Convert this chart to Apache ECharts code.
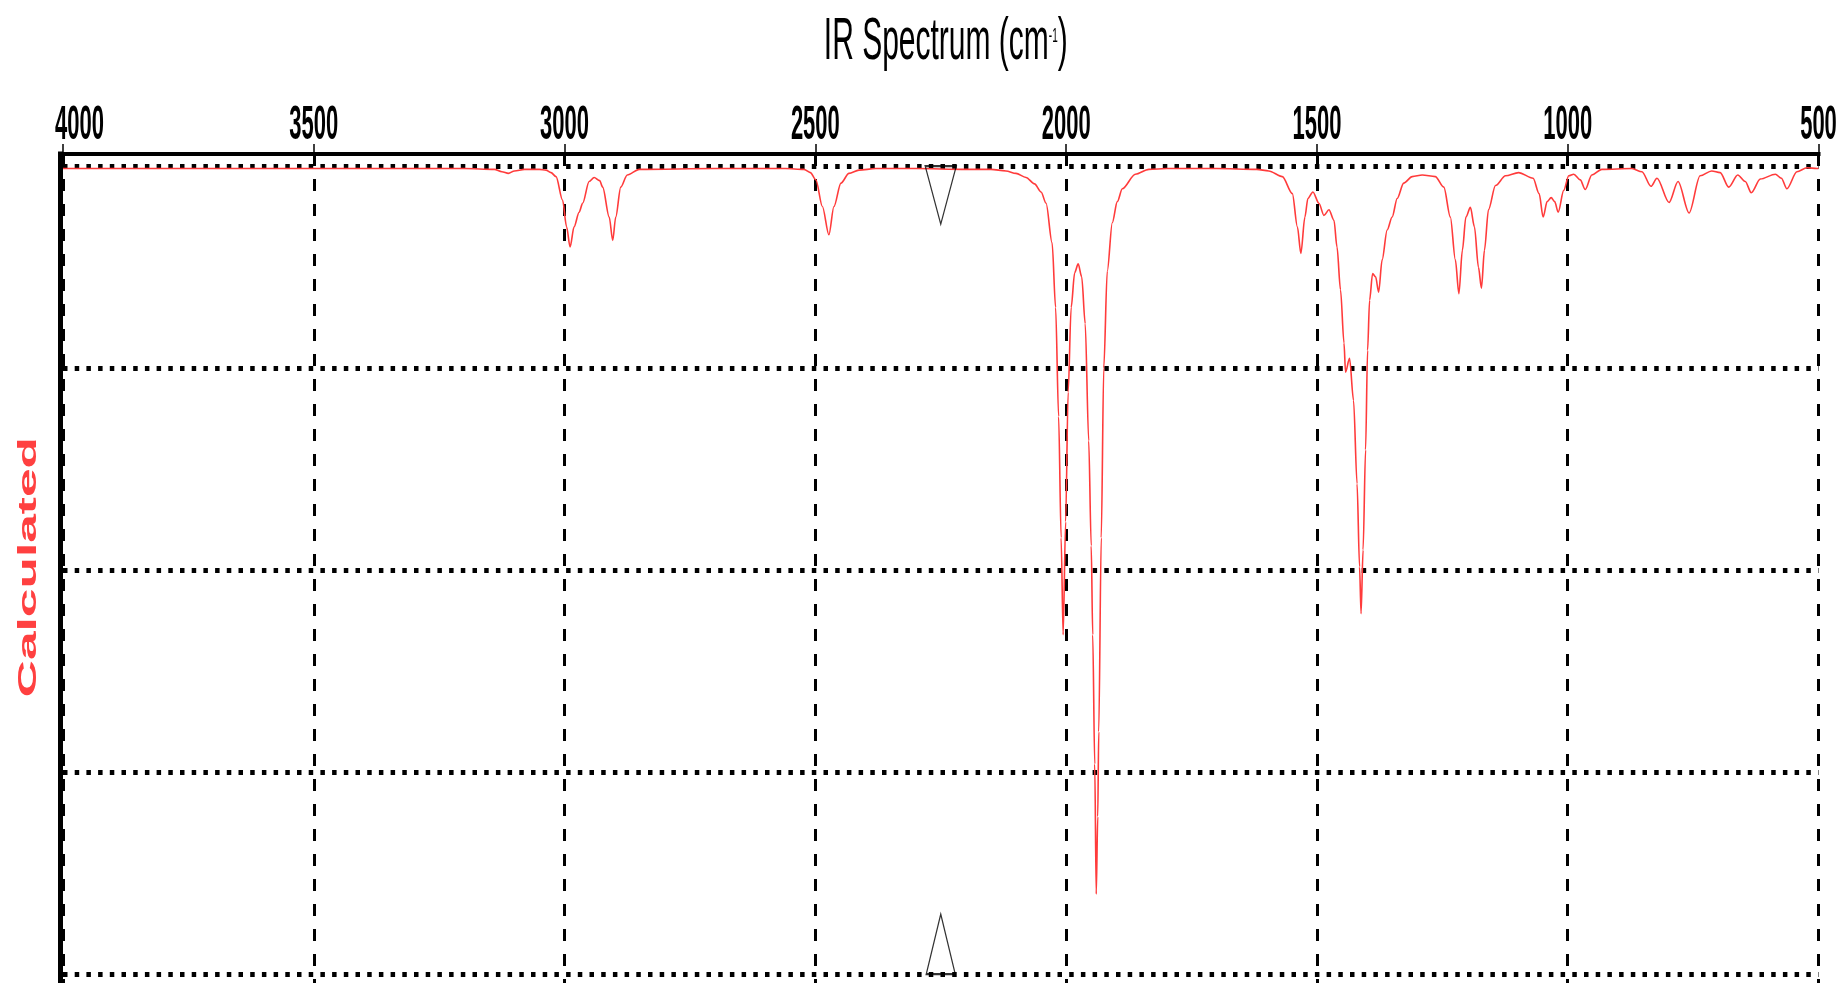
<!DOCTYPE html>
<html>
<head>
<meta charset="utf-8">
<title>IR Spectrum</title>
<script src="https://cdn.jsdelivr.net/npm/echarts@6/dist/echarts.min.js"></script>
<style>
  html, body { margin: 0; padding: 0; background: #ffffff; }
  #chart { width: 1847px; height: 983px; }
</style>
</head>
<body>
<div id="chart"></div>
<script>
// Calculated IR spectrum: wavenumber (cm-1) and transmittance (%)
const wavenumbers = [
  4000, 3800, 3600, 3400, 3200, 3140, 3125, 3112, 3100, 3080, 3050, 3037, 3027, 3017,
  3004, 2996, 2989, 2981, 2971, 2964, 2951, 2941, 2930, 2924, 2911, 2904, 2898, 2888,
  2875, 2851, 2700, 2560, 2523, 2510, 2499, 2486, 2473, 2463, 2449, 2433, 2413, 2380,
  2300, 2200, 2150, 2120, 2100, 2080, 2063, 2050, 2040, 2028, 2021, 2015, 2010, 2006,
  2001, 1996, 1990, 1983, 1976, 1969, 1962, 1955, 1950, 1947, 1943, 1940, 1937, 1935,
  1930, 1925, 1918, 1908, 1898, 1888, 1862, 1835, 1800, 1700, 1620, 1596, 1569, 1549,
  1539, 1532, 1524, 1518, 1508, 1496, 1486, 1476, 1466, 1460, 1453, 1446, 1443, 1435,
  1427, 1420, 1415, 1412, 1408, 1403, 1399, 1395, 1389, 1383, 1377, 1370, 1360, 1350,
  1340, 1327, 1310, 1290, 1264, 1247, 1234, 1224, 1217, 1210, 1203, 1194, 1186, 1178,
  1172, 1166, 1158, 1144, 1124, 1098, 1069, 1057, 1049, 1041, 1033, 1026, 1019, 1008,
  998, 988, 975, 965, 952, 932, 872, 852, 834, 822, 798, 780, 758, 736,
  713, 696, 679, 661, 646, 634, 616, 586, 574, 563, 543, 523, 503, 500
];
const transmittance = [
  99.7, 99.7, 99.7, 99.7, 99.7, 99.6, 99.3, 99.1, 99.4, 99.6, 99.6, 99.5, 99.2, 98.7,
  95.8, 92.5, 90.0, 92.5, 94.3, 95.4, 98.1, 98.6, 98.2, 97.4, 93.7, 90.8, 93.7, 97.4,
  98.9, 99.6, 99.7, 99.7, 99.6, 99.2, 98.3, 95.0, 91.5, 95.0, 97.9, 99.1, 99.5, 99.7,
  99.7, 99.6, 99.6, 99.4, 99.1, 98.6, 97.8, 96.8, 95.4, 90.5, 82.5, 69.0, 54.0, 42.0,
  56.0, 72.0, 82.5, 86.8, 87.9, 86.3, 80.5, 66.0, 53.0, 42.0, 26.0, 9.9, 19.5, 30.0,
  54.0, 75.0, 87.0, 93.0, 95.6, 97.2, 99.0, 99.6, 99.7, 99.7, 99.6, 99.4, 98.7, 96.6,
  92.5, 89.2, 93.7, 96.0, 96.8, 95.4, 93.9, 94.6, 93.3, 90.0, 84.7, 78.1, 74.5, 76.2,
  71.0, 60.7, 50.4, 44.6, 52.5, 64.9, 77.2, 83.4, 86.7, 86.3, 84.4, 88.4, 92.1, 93.7,
  96.0, 97.9, 98.7, 98.9, 98.7, 97.4, 93.7, 88.4, 84.2, 89.6, 93.7, 94.9, 92.5, 87.5,
  84.9, 89.6, 94.6, 97.6, 98.8, 99.2, 98.5, 96.6, 93.7, 95.6, 96.1, 95.6, 94.3, 97.0,
  98.8, 99.0, 98.3, 97.1, 98.9, 99.6, 99.7, 99.3, 97.5, 98.5, 95.5, 98.1, 94.2, 98.8,
  99.4, 99.2, 97.4, 98.9, 98.1, 96.7, 98.4, 99.0, 98.5, 97.2, 99.3, 99.8, 99.7, 99.7
];

// Wavenumber tick labels along the top axis
const tickValues = [4000, 3500, 3000, 2500, 2000, 1500, 1000, 500];

// Open triangle markers at the top and bottom of the frame
const markerWavenumber = 2250;
const markerLevels = [100, 0];

const titleMain = 'IR Spectrum (cm';
const titleSup = '-1';
const titleClose = ')';
const seriesName = 'Calculated';

const Y_MIN = -25;
const Y_MAX = 101.5;
const Y_STEP = 25;
const PX_PER_UNIT = 8.08;
const FONT = '"Liberation Sans", Arial, Helvetica, sans-serif';

const chart = echarts.init(document.getElementById('chart'), null, { renderer: 'canvas' });

const option = {
  animation: false,
  backgroundColor: '#ffffff',
  grid: {
    left: 63,
    top: 154,
    width: 1755.5,
    height: (Y_MAX - Y_MIN) * PX_PER_UNIT,
    containLabel: false,
    outerBoundsMode: 'none'
  },
  xAxis: {
    type: 'value',
    position: 'top',
    inverse: true,
    min: 500,
    max: 4000,
    interval: 500,
    axisLine: { show: true, onZero: false, lineStyle: { color: '#000', width: 4, cap: 'square' } },
    axisTick: { show: true, inside: false, length: 10, lineStyle: { color: '#000', width: 1.5 } },
    axisLabel: { show: false },
    splitLine: { show: true, lineStyle: { color: '#000', width: 3, type: [12, 13] } }
  },
  yAxis: {
    type: 'value',
    min: Y_MIN,
    max: Y_MAX,
    interval: Y_STEP,
    offset: 3,
    axisLine: { show: true, onZero: false, lineStyle: { color: '#000', width: 5, cap: 'square' } },
    axisTick: { show: false },
    axisLabel: { show: false },
    splitLine: {
      show: true,
      showMaxLine: false,
      lineStyle: { color: '#000', width: 5, type: [4.5, 7.2] }
    }
  },
  series: [
    {
      name: seriesName,
      type: 'line',
      data: wavenumbers.map((w, i) => [w, transmittance[i]]),
      showSymbol: false,
      smooth: 0.3,
      smoothMonotone: 'x',
      lineStyle: { color: '#ff3b3b', width: 1.6 },
      z: 3,
      silent: true
    },
    {
      type: 'scatter',
      data: [[markerWavenumber, markerLevels[0]]],
      symbol: 'path://M0,0L2,0L1,4Z',
      symbolSize: [31, 58],
      symbolOffset: [0, 29],
      itemStyle: { color: 'rgba(0,0,0,0)', borderColor: '#000', borderWidth: 1.6 },
      z: 4,
      silent: true
    },
    {
      type: 'scatter',
      data: [[markerWavenumber, markerLevels[1]]],
      symbol: 'path://M1,0L2,4L0,4Z',
      symbolSize: [29, 60],
      symbolOffset: [0, -30],
      itemStyle: { color: 'rgba(0,0,0,0)', borderColor: '#000', borderWidth: 1.6 },
      z: 4,
      silent: true
    }
  ]
};

chart.setOption(option);

// Text is drawn tall and narrow, so it is placed as scaled graphic text
const px = v => chart.convertToPixel({ xAxisIndex: 0 }, v);
const py = v => chart.convertToPixel({ yAxisIndex: 0 }, v);
const axisTop = py(Y_MAX);
const plotCenterX = (px(4000) + px(500)) / 2;
const plotCenterY = (py(100) + py(0)) / 2;

const tickLabels = tickValues.map((v, i) => ({
  type: 'text',
  // the first label starts at the axis corner instead of being centred on it
  x: i === 0 ? px(v) - 8 : px(v),
  y: axisTop - 28,
  scaleY: 2.2,
  silent: true,
  style: {
    text: String(v),
    font: 'bold 22px ' + FONT,
    fill: '#000',
    align: i === 0 ? 'left' : 'center',
    verticalAlign: 'middle'
  }
}));

const title = {
  type: 'text',
  x: plotCenterX + 5,
  y: 42,
  scaleY: 2.0,
  silent: true,
  style: {
    text: '{m|' + titleMain + '}{s|' + titleSup + '}{m|' + titleClose + '}',
    align: 'center',
    verticalAlign: 'middle',
    fill: '#000',
    rich: {
      m: { fontSize: 30, fontFamily: FONT, fill: '#000' },
      s: { fontSize: 10, fontFamily: FONT, fill: '#000', verticalAlign: 'middle', padding: [0, 0, 6, 0] }
    }
  }
};

const seriesLabel = {
  type: 'text',
  x: 29,
  y: plotCenterY - 3,
  rotation: Math.PI / 2,
  scaleX: 1.98,
  silent: true,
  style: {
    text: seriesName,
    font: 'bold 26px ' + FONT,
    fill: '#ff4040',
    align: 'center',
    verticalAlign: 'middle'
  }
};

chart.setOption({ graphic: [title, seriesLabel].concat(tickLabels) });
</script>
</body>
</html>
